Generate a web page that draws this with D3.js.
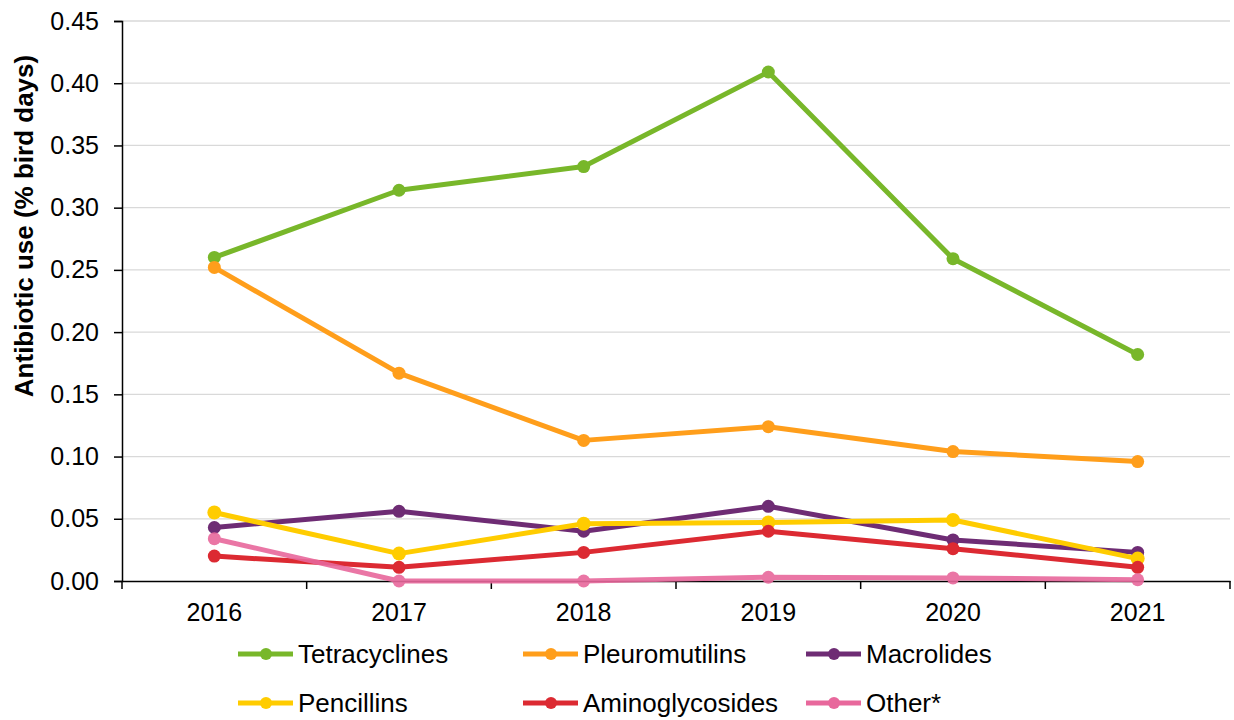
<!DOCTYPE html>
<html><head><meta charset="utf-8">
<script src="https://cdn.jsdelivr.net/npm/d3@7"></script>
<style>body{margin:0;background:#fff;font-family:"Liberation Sans",Arial,sans-serif;}</style>
</head><body><svg id="c" width="1234" height="720"></svg>
<script>
const years = ["2016","2017","2018","2019","2020","2021"];
const seriesNames = ["Tetracyclines","Pleuromutilins","Macrolides","Pencillins","Aminoglycosides","Other*"];
const tetracyclines = [0.260,0.314,0.333,0.409,0.259,0.182];
const pleuromutilins = [0.252,0.167,0.113,0.124,0.104,0.096];
const macrolides = [0.043,0.056,0.040,0.060,0.033,0.023];
const pencillins = [0.055,0.022,0.046,0.047,0.049,0.018];
const aminoglycosides = [0.020,0.011,0.023,0.040,0.026,0.011];
const other = [0.034,0.000,0.000,0.003,0.0025,0.001];
const colors = ["#78b72a","#ff9e1b","#6e2c74","#ffcc00","#dc2a32","#e8689c"];
const yTicks = [0,0.05,0.10,0.15,0.20,0.25,0.30,0.35,0.40,0.45];

const values = [tetracyclines,pleuromutilins,macrolides,pencillins,aminoglycosides,other];
const FF = "Liberation Sans, Arial, sans-serif";
const svg = d3.select("#c");
const L=122, R=1230, T=21, B=581;
const x = d3.scaleBand().domain(years).range([L,R]);
const y = d3.scaleLinear().domain([0,0.45]).range([B,T]);

// gridlines
svg.append("g").selectAll("line").data(yTicks.filter(d=>d>0)).join("line")
  .attr("x1",L).attr("x2",R).attr("y1",d=>y(d)).attr("y2",d=>y(d))
  .attr("stroke","#d9d9d9").attr("stroke-width",1.3);

// y axis
const ya = svg.append("g").attr("transform",`translate(${L},0)`)
  .call(d3.axisLeft(y).tickValues(yTicks).tickFormat(d3.format(".2f")).tickSize(8).tickPadding(15));
ya.select(".domain").attr("stroke","#000").attr("stroke-width",1.5);
ya.selectAll(".tick line").attr("stroke","#000").attr("stroke-width",1.5);
ya.selectAll("text").attr("font-size",25).attr("font-family",FF).attr("fill","#000");

// x axis
const xa = svg.append("g").attr("transform",`translate(0,${B})`)
  .call(d3.axisBottom(x).tickSize(0).tickPadding(22));
xa.select(".domain").attr("stroke","#000").attr("stroke-width",1.5);
xa.selectAll("text").attr("font-size",25).attr("font-family",FF).attr("fill","#000");
const bounds = years.map(d=>x(d)).concat([x(years[years.length-1])+x.bandwidth()]);
xa.append("g").selectAll("line").data(bounds).join("line")
  .attr("x1",d=>d).attr("x2",d=>d).attr("y1",0).attr("y2",8)
  .attr("stroke","#000").attr("stroke-width",1.5);

// y title
svg.append("text").attr("transform",`translate(33,226) rotate(-90)`)
  .attr("text-anchor","middle").attr("font-size",26).attr("font-weight","bold")
  .attr("font-family",FF)
  .text("Antibiotic use (% bird days)");

const cx = d => x(d)+x.bandwidth()/2;
const line = d3.line().x((d,i)=>cx(years[i])).y(d=>y(d));
values.forEach((vals,k)=>{
  const g = svg.append("g").attr("opacity", k===5?0.9:1);
  g.append("path").datum(vals).attr("d",line).attr("fill","none")
    .attr("stroke",colors[k]).attr("stroke-width",5).attr("stroke-linejoin","round");
  g.selectAll("circle").data(vals).join("circle")
    .attr("cx",(d,i)=>cx(years[i])).attr("cy",d=>y(d)).attr("r",k===3?7:6.5)
    .attr("fill",colors[k]);
});

// legend
const legX = [238,523,806], legY=[654,703];
seriesNames.forEach((n,k)=>{
  const lx = legX[k%3], ly = legY[Math.floor(k/3)];
  const g = svg.append("g");
  g.append("line").attr("x1",lx).attr("x2",lx+55).attr("y1",ly).attr("y2",ly)
    .attr("stroke",colors[k]).attr("stroke-width",5);
  g.append("circle").attr("cx",lx+28).attr("cy",ly).attr("r",6).attr("fill",colors[k]);
  g.append("text").attr("x",lx+60).attr("y",ly+9).attr("font-size",26)
    .attr("font-family",FF).text(n);
});
</script></body></html>
